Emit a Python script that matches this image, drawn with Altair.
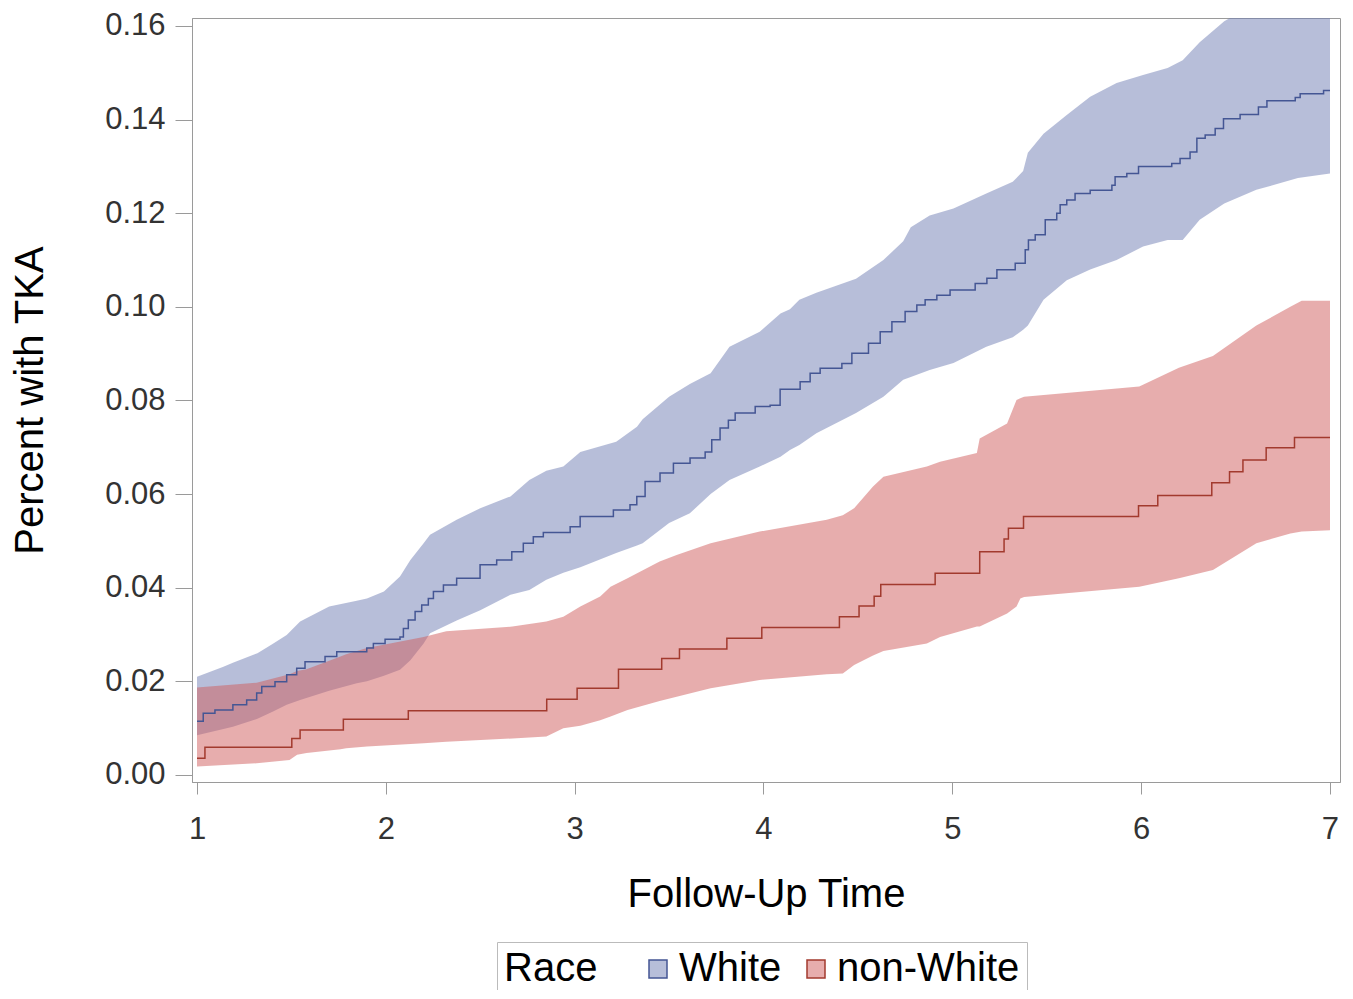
import altair as alt
import pandas as pd

# ---- Kaplan-Meier style cumulative incidence (step curves) ----
white_time = [1.0, 1.033, 1.095, 1.19, 1.263, 1.316, 1.343, 1.413, 1.475, 1.528, 1.572, 1.678, 1.74, 1.899,
              1.934, 1.996, 2.075, 2.093, 2.119, 2.155, 2.19, 2.225, 2.252, 2.305, 2.375, 2.499, 2.587, 2.667,
              2.728, 2.781, 2.834, 2.976, 3.029, 3.205, 3.293, 3.329, 3.373, 3.452, 3.523, 3.611, 3.691, 3.726,
              3.77, 3.814, 3.85, 3.956, 4.035, 4.088, 4.194, 4.247, 4.30, 4.415, 4.468, 4.556, 4.618, 4.68,
              4.75, 4.812, 4.856, 4.918, 4.988, 5.121, 5.183, 5.236, 5.333, 5.386, 5.403, 5.439, 5.492, 5.553,
              5.571, 5.606, 5.65, 5.73, 5.845, 5.862, 5.924, 5.986, 6.162, 6.206, 6.259, 6.295, 6.339, 6.392,
              6.436, 6.524, 6.621, 6.666, 6.816, 6.842, 6.966, 7.0]
white_est = [0.0115, 0.0132, 0.0139, 0.0150, 0.0160, 0.0175, 0.0189, 0.0199, 0.0214, 0.0228, 0.0242, 0.0253,
             0.0263, 0.0271, 0.0281, 0.0290, 0.0295, 0.0313, 0.0331, 0.0349, 0.0363, 0.0377, 0.0392, 0.0406,
             0.0420, 0.0449, 0.0459, 0.0477, 0.0495, 0.0509, 0.0518, 0.0530, 0.0552, 0.0566, 0.0577, 0.0595,
             0.0627, 0.0645, 0.0666, 0.0677, 0.0690, 0.0716, 0.0741, 0.0758, 0.0773, 0.0787, 0.0790, 0.0824,
             0.0840, 0.0858, 0.0869, 0.0879, 0.0901, 0.0922, 0.0947, 0.0968, 0.0990, 0.1004, 0.1015, 0.1025,
             0.1036, 0.1050, 0.1061, 0.1079, 0.1093, 0.1122, 0.1143, 0.1154, 0.1186, 0.1200, 0.1218, 0.1228,
             0.1242, 0.1249, 0.1260, 0.1278, 0.1285, 0.1300, 0.1306, 0.1317, 0.1331, 0.1360, 0.1367, 0.1381,
             0.1402, 0.1411, 0.1427, 0.1440, 0.1447, 0.1455, 0.1462, 0.1462]

nonwhite_time = [1.0, 1.042, 1.502, 1.546, 1.775, 2.119, 2.852, 3.013, 3.232, 3.461, 3.555, 3.806, 3.991,
                 4.402, 4.506, 4.586, 4.621, 4.909, 5.145, 5.274, 5.297, 5.377, 5.986, 6.088, 6.374, 6.468,
                 6.539, 6.662, 6.812, 7.0]
nonwhite_est = [0.0036, 0.0059, 0.0078, 0.0096, 0.0119, 0.0137, 0.0162, 0.0185, 0.0226, 0.0249, 0.0269,
                0.0292, 0.0315, 0.0338, 0.0361, 0.0382, 0.0407, 0.0431, 0.0477, 0.0504, 0.0527, 0.0552,
                0.0575, 0.0597, 0.0624, 0.0648, 0.0673, 0.0699, 0.0721, 0.0721]

# ---- confidence bands ----
white_band_time = [1.0, 1.14, 1.19, 1.32, 1.40, 1.475, 1.546, 1.70, 1.846, 1.90, 1.99, 2.075, 2.13, 2.20,
                   2.234, 2.375, 2.50, 2.66, 2.76, 2.85, 2.94, 3.03, 3.22, 3.33, 3.36, 3.50, 3.61, 3.72,
                   3.82, 3.98, 4.09, 4.14, 4.19, 4.28, 4.49, 4.635, 4.74, 4.78, 4.88, 5.006, 5.18, 5.32,
                   5.375, 5.40, 5.483, 5.606, 5.73, 5.87, 6.01, 6.14, 6.22, 6.31, 6.44, 6.61, 6.83, 7.0]
white_lower = [0.0085, 0.0098, 0.0103, 0.0120, 0.0135, 0.0150, 0.0160, 0.0180, 0.0196, 0.0200, 0.0212,
               0.0225, 0.0245, 0.0281, 0.0303, 0.0330, 0.0352, 0.0385, 0.0395, 0.0417, 0.0432, 0.0444,
               0.0474, 0.0490, 0.0495, 0.0538, 0.0559, 0.0600, 0.0630, 0.0659, 0.0680, 0.0694, 0.0705,
               0.0730, 0.0773, 0.0808, 0.0844, 0.0850, 0.0865, 0.0880, 0.0915, 0.0935, 0.0951, 0.0960,
               0.1015, 0.1057, 0.1080, 0.1100, 0.1129, 0.1143, 0.1143, 0.1186, 0.1221, 0.1250, 0.1275, 0.1285]
white_upper = [0.0210, 0.0231, 0.0240, 0.0260, 0.0280, 0.0299, 0.0328, 0.0360, 0.0372, 0.0377, 0.0392,
               0.0424, 0.0459, 0.0495, 0.0513, 0.0545, 0.0570, 0.0595, 0.0630, 0.0650, 0.0659, 0.0690,
               0.0712, 0.0744, 0.0760, 0.0808, 0.0835, 0.0858, 0.0915, 0.0947, 0.0986, 0.0995, 0.1015,
               0.1030, 0.1060, 0.1100, 0.1140, 0.1170, 0.1195, 0.1210, 0.1242, 0.1267, 0.1290, 0.1329,
               0.1370, 0.1410, 0.1449, 0.1478, 0.1495, 0.1510, 0.1527, 0.1565, 0.1610, 0.1650, 0.1670, 0.1680]

nonwhite_band_time = [1.0, 1.316, 1.49, 1.53, 1.58, 1.76, 1.79, 1.90, 2.20, 2.32, 2.67, 2.85, 2.94, 3.03,
                      3.135, 3.19, 3.28, 3.45, 3.54, 3.72, 3.98, 4.335, 4.42, 4.48, 4.58, 4.635, 4.865,
                      4.935, 5.13, 5.145, 5.29, 5.34, 5.36, 5.38, 5.99, 6.20, 6.38, 6.61, 6.79, 6.85, 7.0]
nonwhite_lower = [0.0018, 0.0025, 0.0032, 0.0043, 0.0047, 0.0055, 0.0057, 0.0061, 0.0068, 0.0071, 0.0078,
                  0.0082, 0.0100, 0.0105, 0.0117, 0.0125, 0.0139, 0.0158, 0.0167, 0.0185, 0.0203, 0.0215,
                  0.0217, 0.0235, 0.0255, 0.0265, 0.0281, 0.0295, 0.0317, 0.0317, 0.0345, 0.0360, 0.0377,
                  0.0380, 0.0402, 0.0420, 0.0438, 0.0495, 0.0516, 0.0520, 0.0523]
nonwhite_upper = [0.0187, 0.0197, 0.0215, 0.0222, 0.0226, 0.0253, 0.0258, 0.0271, 0.0295, 0.0307, 0.0317,
                  0.0328, 0.0338, 0.0360, 0.0381, 0.0402, 0.0420, 0.0456, 0.0470, 0.0495, 0.0520, 0.0545,
                  0.0555, 0.0570, 0.0616, 0.0637, 0.0659, 0.0669, 0.0688, 0.0719, 0.0751, 0.0801, 0.0805,
                  0.0808, 0.0830, 0.0870, 0.0895, 0.0960, 0.1000, 0.1013, 0.1013]

races = ["White", "non-White"]
band_colors = ["rgba(111,126,179,0.5)", "rgba(208,91,91,0.5)"]
line_colors = ["#445694", "#A23A2E"]
x_ticks = [1, 2, 3, 4, 5, 6, 7]
y_ticks = [0.0, 0.02, 0.04, 0.06, 0.08, 0.10, 0.12, 0.14, 0.16]

lines = pd.concat([
    pd.DataFrame({"time": white_time, "est": white_est, "race": races[0]}),
    pd.DataFrame({"time": nonwhite_time, "est": nonwhite_est, "race": races[1]}),
])
bands = pd.concat([
    pd.DataFrame({"time": white_band_time, "lower": white_lower, "upper": white_upper, "race": races[0]}),
    pd.DataFrame({"time": nonwhite_band_time, "lower": nonwhite_lower, "upper": nonwhite_upper, "race": races[1]}),
])

FONT = "Liberation Sans"

x_scale = alt.Scale(domain=[0.9735, 7.053], nice=False, zero=False)
y_scale = alt.Scale(domain=[-0.0015, 0.1617], nice=False, zero=False)

x_axis = alt.Axis(values=x_ticks, format="d", title="Follow-Up Time", grid=False,
                  tickSize=12, labelPadding=20, labelFontSize=31, titleFontSize=40,
                  titleY=112, titleBaseline="middle", labelFlush=False)
y_axis = alt.Axis(values=y_ticks, format=".2f", title="Percent with TKA", grid=False,
                  tickSize=17, labelPadding=10, labelFontSize=31, titleFontSize=40,
                  titleX=-162, titleY=382, titleAngle=270, titleBaseline="middle",
                  titleAlign="center", labelFlush=False)

legend = alt.Legend(orient="none", legendX=305, legendY=924, direction="horizontal",
                    titleOrient="left", title="Race", titleFontSize=40, titleFontWeight="normal",
                    titleColor="black", labelColor="black", labelFontSize=40, labelLimit=0,
                    symbolType="square", symbolSize=324, symbolStrokeWidth=1.5,
                    strokeColor="#bbbbbb", padding=7, columnPadding=14, labelOffset=1,
                    titlePadding=40, titleFont=FONT, labelFont=FONT)

band_layer = alt.Chart(bands).mark_area(interpolate="linear", clip=True, opacity=1).encode(
    x=alt.X("time:Q", scale=x_scale, axis=x_axis),
    y=alt.Y("upper:Q", scale=y_scale, axis=y_axis, stack=False),
    y2="lower:Q",
    fill=alt.Fill("race:N", scale=alt.Scale(domain=races, range=band_colors), legend=legend),
)

line_layer = alt.Chart(lines).mark_line(interpolate="step-after", clip=True, strokeWidth=1.5).encode(
    x=alt.X("time:Q", scale=x_scale),
    y=alt.Y("est:Q", scale=y_scale),
    stroke=alt.Stroke("race:N", scale=alt.Scale(domain=races, range=line_colors), legend=legend),
)

chart = alt.layer(band_layer, line_layer).properties(
    width=1148, height=764,
    autosize=alt.AutoSizeParams(type="none"),
    padding={"left": 184, "top": 10, "right": 5, "bottom": 208},
).configure_view(
    stroke="#9a9a9a", strokeWidth=1,
).configure_axis(
    domainColor="#9a9a9a", tickColor="#9a9a9a", labelColor="#333333", titleColor="black",
    labelFont=FONT, titleFont=FONT, titleFontWeight="normal",
)

chart.save("out.html", embed_options={"renderer": "svg", "actions": False})
